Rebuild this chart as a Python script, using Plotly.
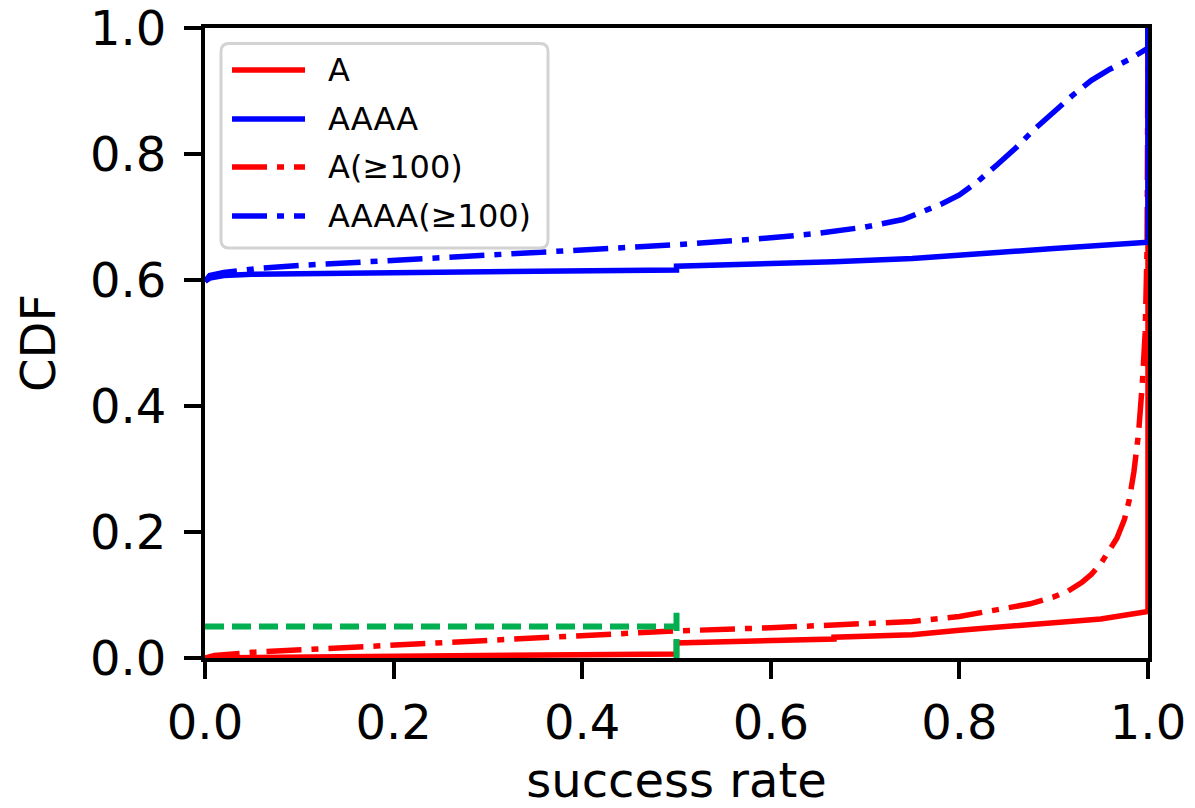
import plotly.graph_objects as go

# ---------------- data ----------------
a_x = [0.0, 0.1, 0.2, 0.333, 0.333, 0.4, 0.5, 0.5, 0.6, 0.667, 0.667, 0.75, 0.8, 0.833, 0.9, 0.95, 1.0, 1.0]
a_y = [0.0, 0.001, 0.002, 0.003, 0.004, 0.005, 0.0065, 0.024, 0.027, 0.030, 0.033, 0.037, 0.044, 0.048, 0.055, 0.062, 0.074, 1.0]

aaaa_x = [0.0, 0.005, 0.02, 0.05, 0.1, 0.2, 0.333, 0.4, 0.5, 0.5, 0.6, 0.667, 0.667, 0.75, 0.8, 0.9, 1.0, 1.0]
aaaa_y = [0.598, 0.603, 0.607, 0.609, 0.610, 0.611, 0.613, 0.615, 0.616, 0.622, 0.625, 0.627, 0.629, 0.634, 0.640, 0.650, 0.660, 1.0]

a100_x = [0.0, 0.01, 0.05, 0.1, 0.2, 0.3, 0.4, 0.5, 0.6, 0.7, 0.75, 0.8, 0.85, 0.875, 0.9, 0.915, 0.93, 0.94,
          0.95, 0.96, 0.967, 0.975, 0.98, 0.985, 0.99, 0.994, 0.997, 0.999, 1.0]
a100_y = [0.0, 0.004, 0.009, 0.013, 0.020, 0.029, 0.037, 0.043, 0.048, 0.054, 0.058, 0.066, 0.078, 0.086, 0.097, 0.106, 0.120, 0.133,
          0.150, 0.172, 0.190, 0.220, 0.250, 0.295, 0.357, 0.436, 0.516, 0.650, 1.0]

aaaa100_x = [0.0, 0.005, 0.02, 0.06, 0.1, 0.2, 0.3, 0.4, 0.5, 0.6, 0.65, 0.7, 0.72, 0.74, 0.76, 0.78, 0.8, 0.82, 0.84,
             0.86, 0.88, 0.9, 0.92, 0.94, 0.96, 0.98, 0.995, 1.0, 1.0]
aaaa100_y = [0.598, 0.607, 0.612, 0.619, 0.623, 0.631, 0.640, 0.648, 0.656, 0.667, 0.674, 0.684, 0.689, 0.696, 0.708, 0.720, 0.735, 0.757, 0.783,
             0.810, 0.840, 0.867, 0.893, 0.917, 0.935, 0.950, 0.962, 0.968, 1.0]

# green threshold guide (5% at success rate 0.5)
guide_h_x = [0.0, 0.5]
guide_h_y = [0.05, 0.05]
guide_v_x = [0.5, 0.5]
guide_v_y = [0.0, 0.072]

legend_labels = ["A", "AAAA", "A(≥100)", "AAAA(≥100)"]
tick_vals = [0.0, 0.2, 0.4, 0.6, 0.8, 1.0]
tick_text = ["0.0", "0.2", "0.4", "0.6", "0.8", "1.0"]

# ---------------- styles ----------------
RED = "#ff0000"
BLUE = "#0000ff"
GREEN = "#00b050"
DASHDOT = "35px,10px,7px,10px"
LW = 5.5
FONT = "DejaVu Sans"

series = [
    (a_x, a_y, RED, "solid"),
    (aaaa_x, aaaa_y, BLUE, "solid"),
    (a100_x, a100_y, RED, DASHDOT),
    (aaaa100_x, aaaa100_y, BLUE, DASHDOT),
]

fig = go.Figure()
# draw red curves first so the blue ones sit on top at the x = 1 jump
for idx in [0, 2, 1, 3]:
    xs, ys, col, dash = series[idx]
    fig.add_trace(go.Scatter(x=xs, y=ys, mode="lines", name=legend_labels[idx],
                             line=dict(color=col, width=LW, dash=dash),
                             showlegend=False))

fig.add_trace(go.Scatter(x=guide_h_x, y=guide_h_y, mode="lines", showlegend=False,
                         line=dict(color=GREEN, width=6, dash="19px,8px")))
fig.add_trace(go.Scatter(x=guide_v_x, y=guide_v_y, mode="lines", showlegend=False,
                         line=dict(color=GREEN, width=6, dash="19px,8px")))

# ---------------- legend (drawn to match matplotlib style) ----------------
W, H = 943.0, 630.0
def px(x):
    return (x - 205.0) / W
def py(y):
    return (658.0 - y) / H

bx0, bx1, by0, by1 = px(221), px(548), py(248), py(43.5)
rx, ry = 8 / W, 8 / H
path = (f"M {bx0+rx},{by1} L {bx1-rx},{by1} Q {bx1},{by1} {bx1},{by1-ry} "
        f"L {bx1},{by0+ry} Q {bx1},{by0} {bx1-rx},{by0} L {bx0+rx},{by0} "
        f"Q {bx0},{by0} {bx0},{by0+ry} L {bx0},{by1-ry} Q {bx0},{by1} {bx0+rx},{by1} Z")
fig.add_shape(type="path", path=path, xref="paper", yref="paper",
              line=dict(color="#d3d3d3", width=3), fillcolor="white", layer="above")

row_y = [70, 119, 167, 216]
for (xs, ys, col, dash), name, ry_ in zip(series, legend_labels, row_y):
    fig.add_shape(type="line", xref="paper", yref="paper",
                  x0=px(232), x1=px(305), y0=py(ry_), y1=py(ry_),
                  line=dict(color=col, width=LW, dash=dash), layer="above")
    fig.add_annotation(text=name, xref="paper", yref="paper", x=px(326), y=py(ry_),
                       xanchor="left", yanchor="middle", showarrow=False,
                       font=dict(family=FONT, size=32, color="black"))

axis_common = dict(range=[0, 1], tickvals=tick_vals, ticktext=tick_text,
                   showline=True, linecolor="black", linewidth=4, mirror=True,
                   ticks="outside", ticklen=17, tickwidth=4, tickcolor="black",
                   showgrid=False, zeroline=False, ticklabeloverflow="allow",
                   automargin=False,
                   tickfont=dict(family=FONT, size=48, color="black"))

fig.update_layout(
    width=1195, height=808,
    margin=dict(l=205, r=47, t=28, b=150),
    paper_bgcolor="white", plot_bgcolor="white",
    xaxis=dict(title=dict(text="success rate", font=dict(family=FONT, size=48, color="black"), standoff=23),
               ticklabelstandoff=2, **axis_common),
    yaxis=dict(title=dict(text="CDF", font=dict(family=FONT, size=48, color="black"), standoff=20),
               ticklabelstandoff=8, **axis_common),
)

fig.write_html("out.html")
